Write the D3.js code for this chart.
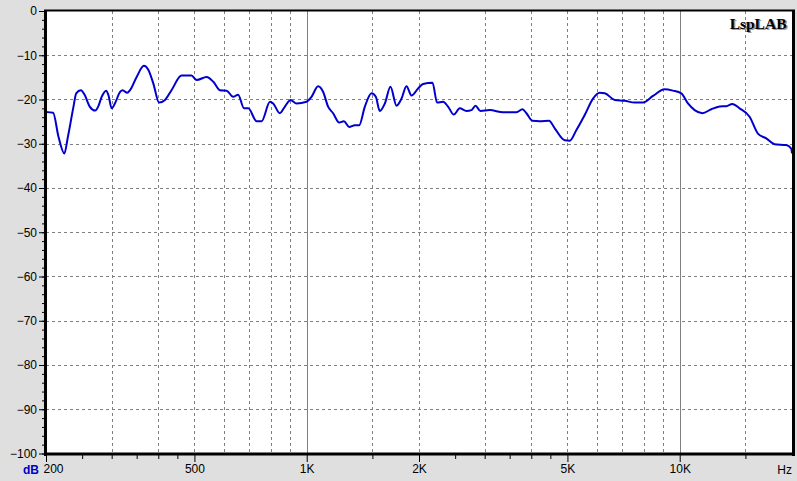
<!DOCTYPE html>
<html><head><meta charset="utf-8">
<script src="https://cdn.jsdelivr.net/npm/d3@7"></script>
<style>
html,body{margin:0;padding:0;background:#dfdfdf;}
svg{display:block;}
text{font-family:"Liberation Sans",Arial,sans-serif;}
</style></head>
<body>
<script>
// ---- data ----
const freqs = [200,209,216,224,229,237,241,248,254,262,271,276,282,290,294,300,306,316,321,330,336,350,366,376,388,402,417,434,462,491,507,539,562,585,610,635,655,679,697,734,757,797,813,847,874,905,939,999,1030,1073,1107,1141,1177,1222,1258,1299,1346,1382,1432,1492,1532,1570,1620,1677,1741,1795,1851,1910,1989,2051,2174,2236,2321,2393,2479,2572,2681,2765,2834,2923,3095,3361,3650,3788,3882,4029,4215,4463,4623,4918,5072,5285,5563,5856,6103,6295,6695,7121,7575,7971,8479,9111,9591,10101,10522,10966,11502,12156,12794,13336,13836,14474,15394,16202,17066,17964,19308,19912,20000];
const levels = [-22.8,-23.0,-28.4,-32.2,-28.4,-21.6,-18.6,-17.9,-19.0,-21.6,-22.5,-21.6,-19.4,-18.0,-19.0,-22.0,-20.9,-18.3,-17.9,-18.5,-17.9,-14.9,-12.4,-13.3,-16.4,-20.7,-20.1,-17.9,-14.6,-14.6,-15.6,-14.9,-16.0,-17.9,-18.0,-19.4,-18.9,-22.0,-22.0,-24.9,-24.9,-20.5,-20.9,-23.1,-21.6,-20.1,-20.9,-20.5,-19.4,-17.0,-18.3,-21.6,-23.1,-25.2,-24.9,-26.2,-25.8,-25.8,-21.6,-18.6,-19.4,-22.6,-20.9,-17.1,-21.4,-19.8,-17.0,-19.1,-17.5,-16.5,-16.2,-20.7,-20.5,-21.6,-23.4,-22.0,-22.6,-22.4,-21.4,-22.6,-22.4,-22.9,-22.9,-22.2,-23.1,-24.8,-24.9,-24.8,-26.5,-29.2,-29.3,-26.9,-23.5,-19.8,-18.5,-18.6,-20.1,-20.3,-20.7,-20.7,-19.2,-17.7,-18.0,-18.6,-20.9,-22.4,-23.1,-22.2,-21.6,-21.5,-21.0,-22.0,-23.9,-27.7,-28.8,-30.1,-30.3,-31.1,-32.2];
const yTicks = [0,-10,-20,-30,-40,-50,-60,-70,-80,-90,-100];
const yMinor = d3.range(0,-101,-2);
const xLabelTicks = [200,500,1000,2000,5000,10000];
const xLabelText = ["200","500","1K","2K","5K","10K"];
const xMinorTicks = [250,300,350,400,450,1500,2500,3000,3500,4000,4500,15000];
const xGridDashed = [300,400,500,600,700,800,900,1500,2000,3000,4000,5000,6000,7000,8000,9000,15000];
const xGridSolid = [1000,10000];

const W = 797, H = 481;
const svg = d3.select("body").append("svg").attr("width",W).attr("height",H);
svg.append("rect").attr("width",W).attr("height",H).attr("fill","#dfdfdf");

const x = d3.scaleLog().domain([200,20000]).range([46,792]);
const y = d3.scaleLinear().domain([-100,0]).range([453.5,11]);

// plot background
svg.append("rect").attr("x",46).attr("y",11).attr("width",746).attr("height",442.5).attr("fill","#fff");

// grid
const g = svg.append("g");
g.selectAll(".hg").data(yTicks.filter(d=>d>-100 && d<0)).enter().append("line")
  .attr("x1",46).attr("x2",792).attr("y1",d=>Math.round(y(d))+0.5).attr("y2",d=>Math.round(y(d))+0.5)
  .attr("stroke","#808080").attr("stroke-dasharray","3,3");
g.selectAll(".vg").data(xGridDashed).enter().append("line")
  .attr("x1",d=>Math.round(x(d))+0.5).attr("x2",d=>Math.round(x(d))+0.5).attr("y1",11).attr("y2",453)
  .attr("stroke","#808080").attr("stroke-dasharray","3,3");
g.selectAll(".vs").data(xGridSolid).enter().append("line")
  .attr("x1",d=>Math.round(x(d))+0.5).attr("x2",d=>Math.round(x(d))+0.5).attr("y1",11).attr("y2",453)
  .attr("stroke","#808080");

// curve
svg.append("clipPath").attr("id","clip").append("rect").attr("x",46).attr("y",11).attr("width",746).attr("height",442);
const line = d3.line().x(d=>x(d[0])).y(d=>y(d[1])).curve(d3.curveMonotoneX);
svg.append("path").datum(freqs.map((f,i)=>[f,levels[i]]))
  .attr("clip-path","url(#clip)")
  .attr("d",line).attr("fill","none").attr("stroke","#0000cc").attr("stroke-width",2).attr("stroke-linejoin","round");

// borders
svg.append("line").attr("x1",45.5).attr("x2",45.5).attr("y1",10).attr("y2",456).attr("stroke","#000").attr("stroke-width",3);
svg.append("line").attr("x1",44).attr("x2",795).attr("y1",454).attr("y2",454).attr("stroke","#000").attr("stroke-width",3);
svg.append("line").attr("x1",44).attr("x2",795).attr("y1",10.5).attr("y2",10.5).attr("stroke","#000").attr("stroke-width",2);
svg.append("line").attr("x1",793.5).attr("x2",793.5).attr("y1",10).attr("y2",456).attr("stroke","#000").attr("stroke-width",3);

// y axis
const yAxisMinor = d3.axisLeft(y).tickValues(yMinor).tickSize(3).tickFormat("");
svg.append("g").attr("transform","translate(45,0)").call(yAxisMinor).call(s=>s.select(".domain").remove())
  .selectAll("line").attr("stroke","#000");
const yAxis = d3.axisLeft(y).tickValues(yTicks).tickSize(6).tickPadding(2).tickFormat(d=>d3.format("d")(d));
svg.append("g").attr("transform","translate(45,0)").call(yAxis).call(s=>s.select(".domain").remove())
  .call(s=>s.selectAll("text").attr("font-size",12).attr("fill","#000"))
  .selectAll("line").attr("stroke","#000");

// x axis
const xAxisMinor = d3.axisBottom(x).tickValues(xMinorTicks).tickSize(4).tickFormat("");
svg.append("g").attr("transform","translate(0,455)").call(xAxisMinor).call(s=>s.select(".domain").remove())
  .selectAll("line").attr("stroke","#000");
const xAxis = d3.axisBottom(x).tickValues(xLabelTicks).tickSize(7).tickPadding(2)
  .tickFormat((d,i)=>xLabelText[i]);
const xa = svg.append("g").attr("transform","translate(0,455)").call(xAxis).call(s=>s.select(".domain").remove());
xa.selectAll("line").attr("stroke","#000");
xa.selectAll("text").attr("font-size",12).attr("fill","#000");
xa.selectAll("text").filter(d=>d===200).attr("text-anchor","start").attr("x",-3);

svg.append("text").attr("x",23).attr("y",474).attr("font-size",12).attr("font-weight","bold").attr("fill","#0000cc").text("dB");
svg.append("text").attr("x",792).attr("y",474).attr("text-anchor","end").attr("font-size",12).attr("fill","#000").text("Hz");

// brand
const brandFont = '"Liberation Serif","Times New Roman",serif';
svg.append("text").attr("x",788).attr("y",30).attr("text-anchor","end").attr("fill","#999")
  .style("font-family",brandFont).style("font-weight","bold").style("font-size","15.5px").text("LspLAB");
svg.append("text").attr("x",786.5).attr("y",29).attr("text-anchor","end").attr("fill","#000")
  .style("font-family",brandFont).style("font-weight","bold").style("font-size","15.5px").text("LspLAB");
</script>
</body></html>
